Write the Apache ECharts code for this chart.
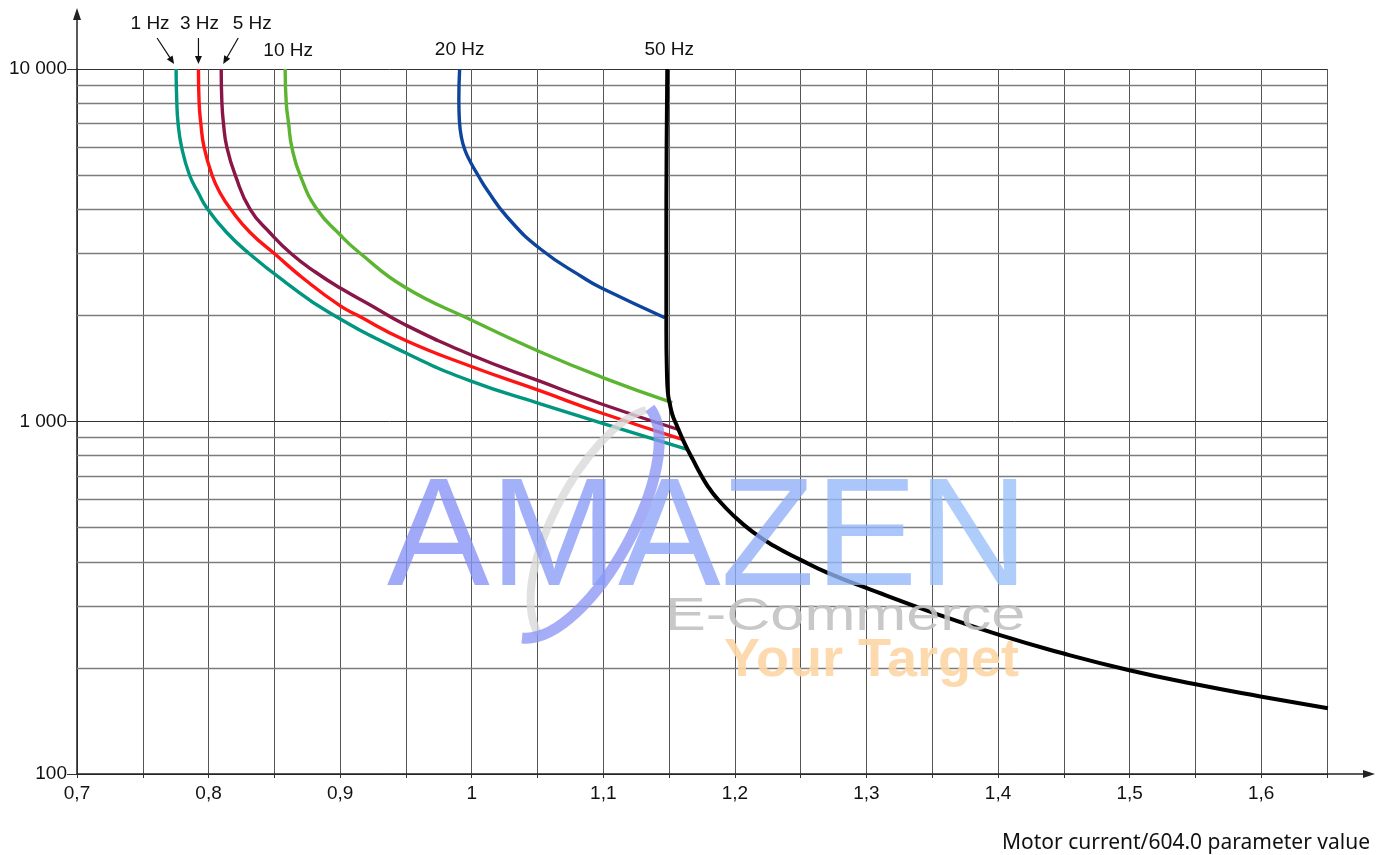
<!DOCTYPE html>
<html><head><meta charset="utf-8">
<script src="https://cdn.jsdelivr.net/npm/echarts@6/dist/echarts.min.js"></script>
<style>html,body{margin:0;padding:0;background:#fff}#chart{width:1386px;height:855px}</style>
</head><body><div id="chart"></div>
<script>
// ---------- data ----------
const xTickValues = [0.7, 0.8, 0.9, 1.0, 1.1, 1.2, 1.3, 1.4, 1.5, 1.6];
const xTickLabels = ['0,7', '0,8', '0,9', '1', '1,1', '1,2', '1,3', '1,4', '1,5', '1,6'];
const yTickValues = [100, 1000, 10000];
const yTickLabels = ['100', '1 000', '10 000'];
const yMinorLines = [200, 300, 400, 500, 600, 700, 800, 900, 2000, 3000, 4000, 5000, 6000, 7000, 8000, 9000];
const xAxisTitle = 'Motor current/604.0 parameter value';
const seriesNames = ['1 Hz', '3 Hz', '5 Hz', '10 Hz', '20 Hz', '50 Hz'];

const hz1X = [0.7753, 0.7758, 0.7768, 0.7795, 0.7855, 0.7923, 0.7987, 0.8134, 0.8303, 0.8582, 0.891, 0.95, 1.0, 1.0527, 1.1, 1.1638];
const hz1Y = [10000, 8169, 7027, 6006, 5003, 4448, 4034, 3448, 3006, 2487, 2045, 1564, 1299, 1121, 987, 834];

const hz3X = [0.7923, 0.7928, 0.7941, 0.7966, 0.8028, 0.809, 0.8164, 0.8316, 0.8506, 0.8735, 0.9001, 0.9128, 0.949, 0.9997, 1.0522, 1.0986, 1.16];
const hz3Y = [10000, 8045, 7014, 5995, 4981, 4434, 4020, 3437, 2981, 2520, 2127, 2005, 1703, 1432, 1221, 1057, 890];

const hz5X = [0.8096, 0.8101, 0.8113, 0.8139, 0.8204, 0.8316, 0.8468, 0.8633, 0.8811, 0.9001, 0.9229, 0.949, 0.9997, 1.0522, 1.0986, 1.1582];
const hz5Y = [10000, 8045, 7014, 5995, 4981, 3999, 3426, 2981, 2655, 2391, 2141, 1885, 1544, 1299, 1121, 946];

const hz10X = [0.8582, 0.859, 0.8608, 0.8633, 0.8697, 0.8824, 0.9001, 0.914, 0.949, 0.9997, 1.0522, 1.0986, 1.1524];
const hz10Y = [10000, 8045, 7014, 5995, 4981, 3999, 3381, 3026, 2407, 1941, 1575, 1337, 1131];

const hz20X = [0.9908, 0.9902, 0.9906, 0.9921, 0.9948, 0.999, 1.0051, 1.0117, 1.0269, 1.0522, 1.0852, 1.0986, 1.1468];
const hz20Y = [10000, 8169, 7167, 6415, 5891, 5448, 4971, 4537, 3803, 3086, 2553, 2391, 1970];

const hz50X = [1.1486, 1.1481, 1.1479, 1.1479, 1.1483, 1.1491, 1.1504, 1.1526, 1.1557, 1.1599, 1.1638, 1.1682, 1.1732, 1.1793, 1.1861, 1.1991, 1.2135, 1.2295, 1.25, 1.2706, 1.3008, 1.3514, 1.4009, 1.4491, 1.4998, 1.5492, 1.5994, 1.6507];
const hz50Y = [10000, 5891, 3065, 1818, 1400, 1204, 1129, 1043, 977, 898, 836, 778, 717, 656, 607, 540, 486, 444, 405, 372, 336, 286, 248, 220, 197, 180, 166, 153.6];

const xMin = 0.7, xMax = 1.65, xStep = 0.05, yMin = 100, yMax = 10000;

// ---------- style ----------
const seriesX = [hz1X, hz3X, hz5X, hz10X, hz20X, hz50X];
const seriesY = [hz1Y, hz3Y, hz5Y, hz10Y, hz20Y, hz50Y];
const seriesColors = ['#00967f', '#ff1414', '#8a1547', '#5cb531', '#0d459e', '#000000'];
const seriesWidths = [3.4, 3.4, 3.4, 3.4, 3.4, 4];
const labelOffsets = [[-26, -45], [1, -45], [31, -45], [3, -18], [0, -19], [2, -19]];
const arrowOffsets = [[[-19, -31], [-2, -5]], [[0, -31], [0, -5]], [[17, -31], [2, -5]], null, null, null];

const FONT = '"Liberation Sans", Arial, Helvetica, sans-serif';

function xLabel(v) {
  for (let i = 0; i < xTickValues.length; i++) if (Math.abs(v - xTickValues[i]) < 1e-6) return xTickLabels[i];
  return '';
}
function yLabel(v) {
  for (let i = 0; i < yTickValues.length; i++) if (Math.abs(v - yTickValues[i]) < 1e-6 * yTickValues[i]) return yTickLabels[i];
  return '';
}

const chart = echarts.init(document.getElementById('chart'), null, {renderer: 'canvas'});

const series = seriesNames.map((name, i) => ({
  type: 'line',
  name: name,
  data: seriesX[i].map((x, j) => [x, seriesY[i][j]]),
  showSymbol: false,
  symbol: 'none',
  smooth: 0.5,
  clip: false,
  z: 3 + i,
  lineStyle: {color: seriesColors[i], width: seriesWidths[i]}
}));
series.unshift({
  type: 'line',
  name: 'grid-minor',
  data: [[xMin, yMin]],
  symbol: 'none',
  lineStyle: {width: 0},
  z: 1,
  markLine: {
    silent: true,
    symbol: 'none',
    z: 1,
    animation: false,
    label: {show: false},
    lineStyle: {color: '#7c7c7c', width: 1.4, type: 'solid'},
    emphasis: {disabled: true},
    data: yMinorLines.map(v => ({yAxis: v}))
  }
});

chart.setOption({
  animation: false,
  backgroundColor: '#ffffff',
  grid: {left: 77, right: 59, top: 69, bottom: 81, containLabel: false},
  xAxis: {
    type: 'value', min: xMin, max: xMax, interval: xStep,
    axisLine: {show: true, lineStyle: {color: '#222', width: 1.5}},
    axisTick: {show: true, length: 4, lineStyle: {color: '#333', width: 1}},
    axisLabel: {formatter: xLabel, margin: 10, color: '#111', fontSize: 19, fontFamily: FONT, showMaxLabel: true, showMinLabel: true, hideOverlap: false},
    splitLine: {show: true, lineStyle: {color: '#555', width: 1}}
  },
  yAxis: {
    type: 'log', logBase: 10, min: yMin, max: yMax,
    axisLine: {show: true, lineStyle: {color: '#222', width: 1.5}},
    axisTick: {show: true, length: 10, lineStyle: {color: '#333', width: 1}},
    axisLabel: {formatter: yLabel, margin: 10, color: '#111', fontSize: 19, fontFamily: FONT},
    splitLine: {show: true, lineStyle: {color: '#333', width: 1}}
  },
  series: series
});

// ---------- decorations positioned through the axes ----------
const px = (x, y) => chart.convertToPixel({gridIndex: 0}, [x, y]);
const origin = px(xMin, yMin);
const xEnd = px(xMax, yMin);
const yEnd = px(xMin, yMax);

function arrow(x1, y1, x2, y2, len, half, color, width, z) {
  const dx = x2 - x1, dy = y2 - y1, d = Math.hypot(dx, dy);
  const ux = dx / d, uy = dy / d;
  const bx = x2 - ux * len, by = y2 - uy * len;
  return [
    {type: 'line', z: z, silent: true, shape: {x1: x1, y1: y1, x2: bx + ux, y2: by + uy}, style: {stroke: color, lineWidth: width}},
    {type: 'polygon', z: z, silent: true, shape: {points: [[x2, y2], [bx - uy * half, by + ux * half], [bx + uy * half, by - ux * half]]}, style: {fill: color}}
  ];
}

const graphics = [];
graphics.push(...arrow(xEnd[0], xEnd[1], xEnd[0] + 48, xEnd[1], 12, 4, '#222', 1.5, 50));
graphics.push(...arrow(yEnd[0], yEnd[1], yEnd[0], yEnd[1] - 61, 12, 4, '#222', 1.5, 50));

seriesNames.forEach((name, i) => {
  const top = px(seriesX[i][0], seriesY[i][0]);
  graphics.push({
    type: 'text', z: 50, silent: true,
    style: {text: name, x: top[0] + labelOffsets[i][0], y: top[1] + labelOffsets[i][1], textAlign: 'center', textVerticalAlign: 'middle', fill: '#111', font: '19px ' + FONT}
  });
  const a = arrowOffsets[i];
  if (a) graphics.push(...arrow(top[0] + a[0][0], top[1] + a[0][1], top[0] + a[1][0], top[1] + a[1][1], 8, 3.5, '#111', 1.2, 50));
});

graphics.push({
  type: 'text', z: 50, silent: true,
  style: {text: xAxisTitle, x: xEnd[0] + 43, y: origin[1] + 69, textAlign: 'right', textVerticalAlign: 'middle', fill: '#111', font: '21px "Noto Sans", "Open Sans", sans-serif'}
});

// watermark overlay (decoration)
graphics.push({
  type: 'bezierCurve', z: 60, silent: true,
  shape: {x1: 646, y1: 410, cpx1: 590, cpy1: 425, cpx2: 505, cpy2: 570, x2: 538, y2: 634},
  style: {stroke: '#d9d9d9', lineWidth: 8, fill: null, opacity: 0.8}
});
graphics.push({
  type: 'bezierCurve', z: 60, silent: true,
  shape: {x1: 522, y1: 638, cpx1: 590, cpy1: 645, cpx2: 690, cpy2: 460, x2: 650, y2: 408},
  style: {stroke: '#8c96f5', lineWidth: 11, fill: null, opacity: 0.78}
});
graphics.push({
  type: 'text', z: 61, silent: true, x: 665, y: 617, scaleX: 1.33,
  style: {text: 'E-Commerce', x: 0, y: 0, textAlign: 'left', textVerticalAlign: 'middle', font: '46px ' + FONT, fill: '#c2c2c2', opacity: 0.9}
});
graphics.push({
  type: 'text', z: 61, silent: true,
  style: {text: 'Your Target', x: 724, y: 661, textAlign: 'left', textVerticalAlign: 'middle', font: 'bold 54px ' + FONT, fill: '#fcd6a4', opacity: 0.9}
});
const wmLetters = ['A', 'M', 'A', 'Z', 'E', 'N'];
const wmWidths = [0.667, 0.833, 0.667, 0.611, 0.667, 0.722];
const wmColors = ['#8592f6', '#899bf7', '#8da4f7', '#90adf8', '#94b6f8', '#98bff9'];
let wx = 387;
wmLetters.forEach((ch, i) => {
  graphics.push({
    type: 'text', z: 61, silent: true,
    style: {text: ch, x: wx, y: 543, textAlign: 'left', textVerticalAlign: 'middle', font: '154px ' + FONT, fill: wmColors[i], opacity: 0.78}
  });
  wx += wmWidths[i] * 154;
});

chart.setOption({graphic: {elements: graphics}});
</script>
</body></html>
